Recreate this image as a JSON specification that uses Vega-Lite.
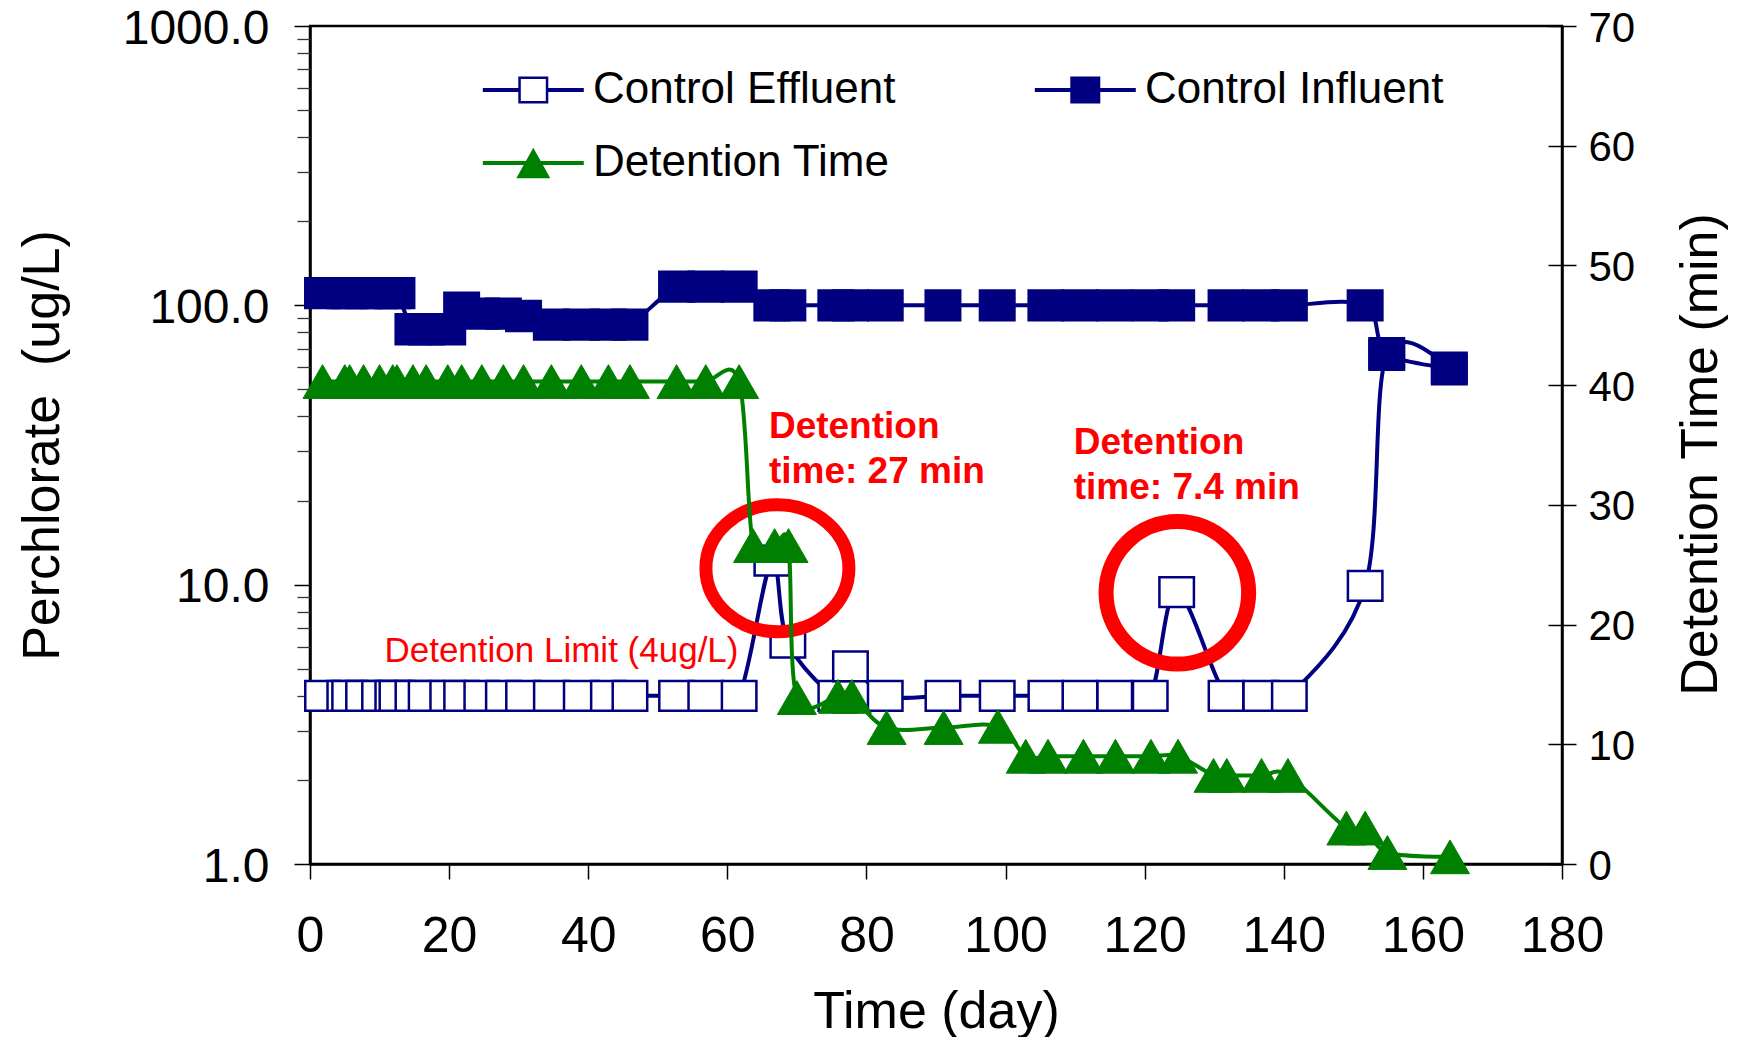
{
  "$schema": "https://vega.github.io/schema/vega-lite/v6.json",
  "width": 1252,
  "height": 838,
  "autosize": {"type": "none"},
  "padding": {"left": 310, "top": 26, "right": 184, "bottom": 173},
  "background": "white",
  "datasets": {
    "perc": [
      {"day": 1.8, "series": "Control Effluent", "value": 4.0},
      {"day": 5.0, "series": "Control Effluent", "value": 4.0},
      {"day": 5.7, "series": "Control Effluent", "value": 4.0},
      {"day": 7.7, "series": "Control Effluent", "value": 4.0},
      {"day": 10.0, "series": "Control Effluent", "value": 4.0},
      {"day": 11.9, "series": "Control Effluent", "value": 4.0},
      {"day": 12.5, "series": "Control Effluent", "value": 4.0},
      {"day": 14.8, "series": "Control Effluent", "value": 4.0},
      {"day": 16.7, "series": "Control Effluent", "value": 4.0},
      {"day": 19.8, "series": "Control Effluent", "value": 4.0},
      {"day": 21.8, "series": "Control Effluent", "value": 4.0},
      {"day": 24.7, "series": "Control Effluent", "value": 4.0},
      {"day": 27.8, "series": "Control Effluent", "value": 4.0},
      {"day": 30.7, "series": "Control Effluent", "value": 4.0},
      {"day": 34.7, "series": "Control Effluent", "value": 4.0},
      {"day": 39.0, "series": "Control Effluent", "value": 4.0},
      {"day": 42.9, "series": "Control Effluent", "value": 4.0},
      {"day": 46.0, "series": "Control Effluent", "value": 4.0},
      {"day": 52.7, "series": "Control Effluent", "value": 4.0},
      {"day": 56.9, "series": "Control Effluent", "value": 4.0},
      {"day": 61.7, "series": "Control Effluent", "value": 4.0},
      {"day": 66.4, "series": "Control Effluent", "value": 12.2},
      {"day": 68.7, "series": "Control Effluent", "value": 6.2},
      {"day": 75.6, "series": "Control Effluent", "value": 4.0},
      {"day": 77.7, "series": "Control Effluent", "value": 5.1},
      {"day": 82.7, "series": "Control Effluent", "value": 4.0},
      {"day": 91.0, "series": "Control Effluent", "value": 4.0},
      {"day": 98.8, "series": "Control Effluent", "value": 4.0},
      {"day": 105.8, "series": "Control Effluent", "value": 4.0},
      {"day": 110.7, "series": "Control Effluent", "value": 4.0},
      {"day": 115.7, "series": "Control Effluent", "value": 4.0},
      {"day": 120.8, "series": "Control Effluent", "value": 4.0},
      {"day": 124.6, "series": "Control Effluent", "value": 9.4},
      {"day": 131.7, "series": "Control Effluent", "value": 4.0},
      {"day": 136.7, "series": "Control Effluent", "value": 4.0},
      {"day": 140.8, "series": "Control Effluent", "value": 4.0},
      {"day": 151.7, "series": "Control Effluent", "value": 9.9},
      {"day": 154.8, "series": "Control Effluent", "value": 66.5},
      {"day": 163.8, "series": "Control Effluent", "value": 59.0},
      {"day": 1.8, "series": "Control Influent", "value": 110.5},
      {"day": 5.0, "series": "Control Influent", "value": 110.5},
      {"day": 5.7, "series": "Control Influent", "value": 110.5},
      {"day": 7.7, "series": "Control Influent", "value": 110.5},
      {"day": 10.0, "series": "Control Influent", "value": 110.5},
      {"day": 11.9, "series": "Control Influent", "value": 110.5},
      {"day": 12.5, "series": "Control Influent", "value": 110.5},
      {"day": 14.8, "series": "Control Influent", "value": 82.1},
      {"day": 16.7, "series": "Control Influent", "value": 82.1},
      {"day": 19.8, "series": "Control Influent", "value": 82.1},
      {"day": 21.8, "series": "Control Influent", "value": 98.2},
      {"day": 24.7, "series": "Control Influent", "value": 93.4},
      {"day": 27.8, "series": "Control Influent", "value": 93.4},
      {"day": 30.7, "series": "Control Influent", "value": 91.6},
      {"day": 34.7, "series": "Control Influent", "value": 85.3},
      {"day": 39.0, "series": "Control Influent", "value": 85.3},
      {"day": 42.9, "series": "Control Influent", "value": 85.3},
      {"day": 46.0, "series": "Control Influent", "value": 85.3},
      {"day": 52.7, "series": "Control Influent", "value": 116.7},
      {"day": 56.9, "series": "Control Influent", "value": 116.7},
      {"day": 61.7, "series": "Control Influent", "value": 116.7},
      {"day": 66.4, "series": "Control Influent", "value": 100},
      {"day": 68.7, "series": "Control Influent", "value": 100},
      {"day": 75.6, "series": "Control Influent", "value": 100},
      {"day": 77.7, "series": "Control Influent", "value": 100},
      {"day": 82.7, "series": "Control Influent", "value": 100},
      {"day": 91.0, "series": "Control Influent", "value": 100},
      {"day": 98.8, "series": "Control Influent", "value": 100},
      {"day": 105.8, "series": "Control Influent", "value": 100},
      {"day": 110.7, "series": "Control Influent", "value": 100},
      {"day": 115.7, "series": "Control Influent", "value": 100},
      {"day": 120.8, "series": "Control Influent", "value": 100},
      {"day": 124.6, "series": "Control Influent", "value": 100},
      {"day": 131.7, "series": "Control Influent", "value": 100},
      {"day": 136.7, "series": "Control Influent", "value": 100},
      {"day": 140.8, "series": "Control Influent", "value": 100},
      {"day": 151.7, "series": "Control Influent", "value": 100},
      {"day": 154.8, "series": "Control Influent", "value": 67.4},
      {"day": 163.8, "series": "Control Influent", "value": 59.8}
    ],
    "det": [
      {"day": 1.8, "minutes": 40.3},
      {"day": 5.0, "minutes": 40.3},
      {"day": 5.7, "minutes": 40.3},
      {"day": 7.7, "minutes": 40.3},
      {"day": 10.0, "minutes": 40.3},
      {"day": 11.9, "minutes": 40.3},
      {"day": 12.5, "minutes": 40.3},
      {"day": 14.8, "minutes": 40.3},
      {"day": 16.7, "minutes": 40.3},
      {"day": 19.8, "minutes": 40.3},
      {"day": 21.8, "minutes": 40.3},
      {"day": 24.7, "minutes": 40.3},
      {"day": 27.8, "minutes": 40.3},
      {"day": 30.7, "minutes": 40.3},
      {"day": 34.7, "minutes": 40.3},
      {"day": 39.0, "minutes": 40.3},
      {"day": 42.9, "minutes": 40.3},
      {"day": 46.0, "minutes": 40.3},
      {"day": 52.7, "minutes": 40.3},
      {"day": 56.9, "minutes": 40.3},
      {"day": 61.7, "minutes": 40.3},
      {"day": 63.7, "minutes": 26.6},
      {"day": 66.8, "minutes": 26.6},
      {"day": 68.8, "minutes": 26.6},
      {"day": 70.0, "minutes": 13.9},
      {"day": 75.9, "minutes": 14.0},
      {"day": 77.9, "minutes": 14.0},
      {"day": 82.9, "minutes": 11.4},
      {"day": 91.1, "minutes": 11.4},
      {"day": 98.9, "minutes": 11.5},
      {"day": 102.9, "minutes": 9.0},
      {"day": 106.1, "minutes": 9.0},
      {"day": 111.2, "minutes": 9.0},
      {"day": 115.8, "minutes": 9.0},
      {"day": 120.9, "minutes": 9.0},
      {"day": 124.8, "minutes": 9.0},
      {"day": 129.9, "minutes": 7.4},
      {"day": 131.8, "minutes": 7.4},
      {"day": 136.8, "minutes": 7.4},
      {"day": 140.6, "minutes": 7.4},
      {"day": 149.0, "minutes": 3.0},
      {"day": 151.7, "minutes": 3.0},
      {"day": 154.9, "minutes": 0.96},
      {"day": 163.9, "minutes": 0.6}
    ],
    "notes": [
      {"day": 65.98, "value": 42.4, "label": "Detention\ntime: 27 min"},
      {"day": 109.8, "value": 37.2, "label": "Detention\ntime: 7.4 min"}
    ],
    "limit": [
      {"day": 10.7, "value": 5.81, "label": "Detention Limit (4ug/L)"}
    ]
  },
  "encoding": {
    "x": {
      "field": "day",
      "type": "quantitative",
      "scale": {"domain": [0, 180], "nice": false, "zero": false},
      "axis": {
        "values": [0, 20, 40, 60, 80, 100, 120, 140, 160, 180],
        "format": "d",
        "title": "Time (day)",
        "titleFontSize": 52,
        "labelFontSize": 50,
        "tickSize": 15,
        "labelPadding": 32,
        "titlePadding": 25,
        "labelFlush": false,
        "labelOverlap": false
      }
    }
  },
  "layer": [
    {
      "encoding": {
        "y": {
          "field": "value",
          "type": "quantitative",
          "scale": {"type": "log", "domain": [1, 1000], "nice": false},
          "axis": {
            "orient": "left",
            "values": [1, 10, 100, 1000],
            "format": ".1f",
            "title": "Perchlorate\u00a0 (ug/L)",
            "titleFontSize": 52,
            "labelFontSize": 48,
            "labelOffset": 3,
            "tickSize": 16,
            "labelPadding": 25,
            "titlePadding": 53,
            "labelOverlap": false
          }
        }
      },
      "layer": [
        {
          "data": {"name": "perc"},
          "transform": [{"filter": "datum.series === 'Control Effluent'"}],
          "mark": {"type": "line", "interpolate": "cardinal", "color": "#000080", "strokeWidth": 4},
          "encoding": {}
        },
        {
          "data": {"name": "perc"},
          "transform": [{"filter": "datum.series === 'Control Effluent'"}],
          "mark": {"type": "point", "shape": "M-1,-0.864H1V0.864H-1Z", "size": 1190, "filled": true, "fill": "white", "stroke": "#000080", "strokeWidth": 2.5, "opacity": 1},
          "encoding": {}
        },
        {
          "data": {"name": "perc"},
          "transform": [{"filter": "datum.series === 'Control Influent'"}],
          "mark": {"type": "line", "interpolate": "cardinal", "color": "#000080", "strokeWidth": 4},
          "encoding": {}
        },
        {
          "data": {"name": "perc"},
          "transform": [{"filter": "datum.series === 'Control Influent'"}],
          "mark": {"type": "point", "shape": "M-1,-0.864H1V0.864H-1Z", "size": 1190, "filled": true, "fill": "#000080", "stroke": "#000080", "strokeWidth": 2.5, "opacity": 1},
          "encoding": {}
        },
        {
          "data": {"values": [{"day": 67.2, "value": 11.45}]},
          "mark": {"type": "point", "shape": "M1,0C1,0.4905,0.5523,0.888,0,0.888C-0.5523,0.888,-1,0.4905,-1,0C-1,-0.4905,-0.5523,-0.888,0,-0.888C0.5523,-0.888,1,-0.4905,1,0Z", "size": 20449, "filled": false, "stroke": "#ff0000", "strokeWidth": 13, "opacity": 1},
          "encoding": {}
        },
        {
          "data": {"values": [{"day": 124.7, "value": 9.35}]},
          "mark": {"type": "point", "shape": "circle", "size": 20335, "filled": false, "stroke": "#ff0000", "strokeWidth": 15, "opacity": 1},
          "encoding": {}
        },
        {
          "data": {"name": "perc"},
          "mark": {"type": "point", "filled": true, "opacity": 0, "strokeWidth": 0, "size": 1600},
          "encoding": {
            "shape": {
              "field": "series",
              "type": "nominal",
              "scale": {
                "domain": ["Control Effluent", "Detention Time", "Control Influent"],
                "range": [
                  "M-2.525,-0.1H-0.75V0.1H-2.525Z M0.75,-0.1H2.525V0.1H0.75Z M-0.75,-0.675H0.75V0.675H-0.75Z M-0.625,-0.55V0.55H0.625V-0.55Z",
                  "M-2.525,-0.1H2.525V0.1H-2.525Z M0,-0.765L0.85,0.765H-0.85Z",
                  "M-2.525,-0.1H2.525V0.1H-2.525Z M-0.75,-0.675H0.75V0.675H-0.75Z"
                ]
              },
              "legend": {
                "orient": "none", "legendX": 172.3, "legendY": 42, "columns": 2, "title": null,
                "symbolSize": 1600, "symbolOffset": 29, "labelOffset": 37.7, "labelFontSize": 44,
                "labelColor": "black", "labelFont": "Liberation Sans", "labelLimit": 600,
                "columnPadding": 138, "rowPadding": 29, "padding": 0, "symbolOpacity": 1, "symbolStrokeWidth": 0
              }
            },
            "fill": {
              "field": "series",
              "type": "nominal",
              "scale": {
                "domain": ["Control Effluent", "Detention Time", "Control Influent"],
                "range": ["#000080", "#008000", "#000080"]
              },
              "legend": {
                "orient": "none", "legendX": 172.3, "legendY": 42, "columns": 2, "title": null,
                "symbolSize": 1600, "symbolOffset": 29, "labelOffset": 37.7, "labelFontSize": 44,
                "labelColor": "black", "labelFont": "Liberation Sans", "labelLimit": 600,
                "columnPadding": 138, "rowPadding": 29, "padding": 0, "symbolOpacity": 1, "symbolStrokeWidth": 0
              }
            }
          }
        }
      ]
    },
    {
      "data": {"name": "perc"},
      "mark": {"type": "point", "opacity": 0},
      "encoding": {
        "y": {
          "field": "value",
          "type": "quantitative",
          "scale": {"type": "log", "domain": [1, 1000], "nice": false},
          "axis": {
            "orient": "left",
            "values": [2, 3, 4, 5, 6, 7, 8, 9, 20, 30, 40, 50, 60, 70, 80, 90, 200, 300, 400, 500, 600, 700, 800, 900],
            "labels": false,
            "domain": false,
            "title": null,
            "tickSize": 13,
            "tickColor": "#333333",
            "tickWidth": 1.3
          }
        }
      }
    },
    {
      "data": {"name": "det"},
      "encoding": {
        "y": {
          "field": "minutes",
          "type": "quantitative",
          "scale": {"domain": [0, 70], "nice": false, "zero": true},
          "axis": {
            "orient": "right",
            "values": [0, 10, 20, 30, 40, 50, 60, 70],
            "title": "Detention Time (min)",
            "titleFontSize": 52,
            "titleAngle": 270,
            "titleBaseline": "top",
            "titleY": 428,
            "labelFontSize": 42,
            "labelOffset": 2,
            "tickSize": 14,
            "labelPadding": 12,
            "titlePadding": 41,
            "labelOverlap": false
          }
        }
      },
      "layer": [
        {
          "mark": {"type": "line", "interpolate": "cardinal", "color": "#008000", "strokeWidth": 4}
        },
        {
          "mark": {"type": "point", "shape": "triangle-up", "size": 1521, "filled": true, "fill": "#008000", "stroke": "#008000", "strokeWidth": 1, "opacity": 1}
        }
      ]
    },
    {
      "data": {"name": "det"},
      "mark": {"type": "point", "opacity": 0},
      "encoding": {
        "y": {
          "field": "minutes",
          "type": "quantitative",
          "scale": {"domain": [0, 70], "nice": false, "zero": true},
          "axis": {
            "orient": "right",
            "values": [0, 10, 20, 30, 40, 50, 60, 70],
            "labels": false,
            "domain": false,
            "title": null,
            "tickSize": -14
          }
        }
      }
    },
    {
      "encoding": {
        "y": {
          "field": "value",
          "type": "quantitative",
          "scale": {"type": "log", "domain": [1, 1000], "nice": false},
          "axis": null
        },
        "text": {"field": "label", "type": "nominal"}
      },
      "layer": [
        {
          "data": {"name": "notes"},
          "mark": {"type": "text", "font": "Liberation Sans", "fontSize": 37, "fontWeight": "bold", "color": "#ff0000", "align": "left", "baseline": "top", "lineBreak": "\n", "lineHeight": 44.5}
        },
        {
          "data": {"name": "limit"},
          "mark": {"type": "text", "font": "Liberation Sans", "fontSize": 35, "color": "#ff0000", "align": "left", "baseline": "middle"}
        }
      ]
    }
  ],
  "resolve": {"scale": {"y": "independent"}},
  "config": {
    "font": "Liberation Sans",
    "view": {"stroke": "black", "strokeWidth": 2.5},
    "axis": {
      "labelFont": "Liberation Sans",
      "titleFont": "Liberation Sans",
      "labelColor": "black",
      "titleColor": "black",
      "titleFontWeight": "normal",
      "domainColor": "black",
      "domainWidth": 2.5,
      "tickColor": "black",
      "tickWidth": 1.5,
      "grid": false
    }
  }
}
